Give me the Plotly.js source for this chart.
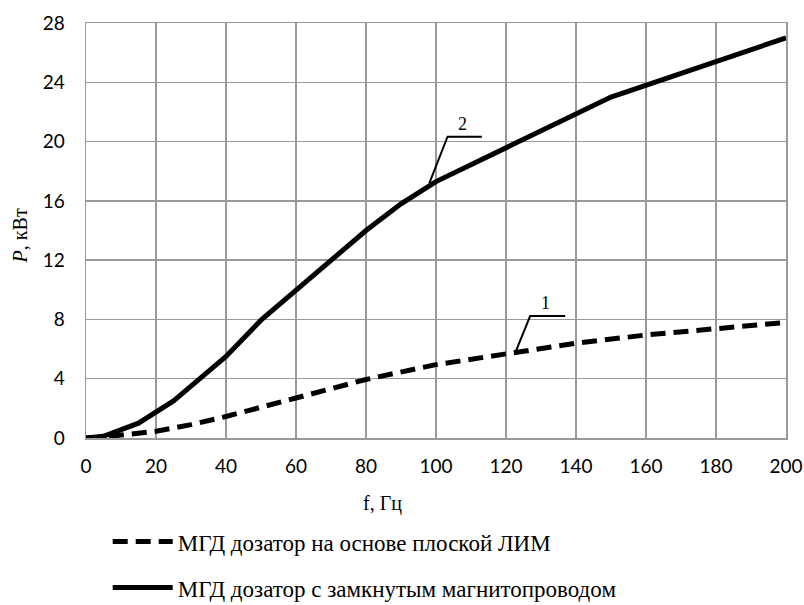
<!DOCTYPE html>
<html>
<head>
<meta charset="utf-8">
<script src="https://cdn.plot.ly/plotly-3.0.1.min.js"></script>
<style>html,body{margin:0;padding:0;background:#fff;}#chart{width:804px;height:605px;}</style>
</head>
<body>
<div id="chart"></div>
<script>
// Series 1 (dashed): МГД дозатор на основе плоской ЛИМ
var fFlat = [0, 5, 10, 20, 30, 40, 60, 80, 100, 120, 140, 160, 180, 200];
var pFlat = [0, 0.05, 0.2, 0.45, 0.9, 1.45, 2.7, 3.95, 4.95, 5.65, 6.4, 6.95, 7.4, 7.8];
// Series 2 (solid): МГД дозатор с замкнутым магнитопроводом
var fClosed = [0, 5, 15, 25, 30, 40, 50, 60, 70, 80, 90, 100, 150, 200];
var pClosed = [0, 0.12, 1, 2.5, 3.5, 5.5, 7.95, 10, 12, 14, 15.8, 17.3, 23, 27];

var nameFlat = "МГД дозатор на основе плоской ЛИМ";
var nameClosed = "МГД дозатор с замкнутым магнитопроводом";

var xTicks = [0, 20, 40, 60, 80, 100, 120, 140, 160, 180, 200];
var yTicks = [0, 4, 8, 12, 16, 20, 24, 28];

// Curve labels with leader lines
var labelNames = ["1", "2"];
var leaderStartX = [122.6, 98.1];
var leaderStartY = [5.72, 17.19];
var leaderElbowX = [126.9, 103.3];
var leaderElbowY = [8.23, 20.33];
var leaderEndX = [136.9, 113.1];
var labelX = [131.4, 107.6];
var labelY = [8.3, 20.4];

var serif = "Liberation Serif, Times New Roman, serif";
var sans = "Lato, Open Sans, sans-serif";

var traces = [
  {x: fFlat, y: pFlat, name: nameFlat, mode: "lines", legendgroup: "a",
   line: {color: "#000", width: 5, dash: "15px,8px"}},
  {x: fClosed, y: pClosed, name: nameClosed, mode: "lines", legendgroup: "b",
   line: {color: "#000", width: 5}}
];

var shapes = [];
var annotations = [];
for (var i = 0; i < labelNames.length; i++) {
  shapes.push({type: "path", xref: "x", yref: "y",
    path: "M" + leaderStartX[i] + "," + leaderStartY[i] + " L" + leaderElbowX[i] + "," + leaderElbowY[i] + " L" + leaderEndX[i] + "," + leaderElbowY[i],
    line: {color: "#000", width: 2}});
  annotations.push({x: labelX[i], y: labelY[i], xref: "x", yref: "y", text: labelNames[i],
    showarrow: false, yanchor: "bottom", font: {family: serif, size: 18, color: "#000"}});
}
annotations.push({xref: "paper", yref: "paper", x: 0.424, y: -0.157, text: "f, Гц",
  showarrow: false, xanchor: "center", yanchor: "middle", font: {family: serif, size: 20, color: "#000"}});
annotations.push({xref: "paper", yref: "paper", x: -0.095, y: 0.487, text: "<i>P</i>, кВт", textangle: -90,
  showarrow: false, xanchor: "center", yanchor: "middle", font: {family: serif, size: 20, color: "#000"}});

var layout = {
  width: 804, height: 605,
  margin: {l: 86, r: 18, t: 23, b: 167, autoexpand: false},
  paper_bgcolor: "#fff", plot_bgcolor: "#fff",
  showlegend: true,
  legend: {x: 0.031, y: -0.198, xanchor: "left", yanchor: "top", orientation: "v",
    tracegroupgap: 13, itemwidth: 60,
    font: {family: serif, size: 23, color: "#000"}, bgcolor: "rgba(0,0,0,0)"},
  xaxis: {range: [0, 200], tickvals: xTicks, ticktext: xTicks.map(String), showgrid: true,
    gridcolor: "#999", gridwidth: 1.5, zeroline: false, showline: true, linecolor: "#999", linewidth: 1.5, mirror: true,
    ticks: "", ticklabelstandoff: 11, tickfont: {family: sans, size: 19, color: "#000"}, fixedrange: true},
  yaxis: {range: [0, 28], tickvals: yTicks, ticktext: yTicks.map(String), showgrid: true,
    gridcolor: "#999", gridwidth: 1.5, zeroline: false, showline: true, linecolor: "#999", linewidth: 1.5, mirror: true,
    ticks: "", ticklabelstandoff: 16, tickfont: {family: sans, size: 19, color: "#000"}, fixedrange: true},
  shapes: shapes,
  annotations: annotations
};

Plotly.newPlot("chart", traces, layout, {staticPlot: true, displayModeBar: false});
</script>
</body>
</html>
